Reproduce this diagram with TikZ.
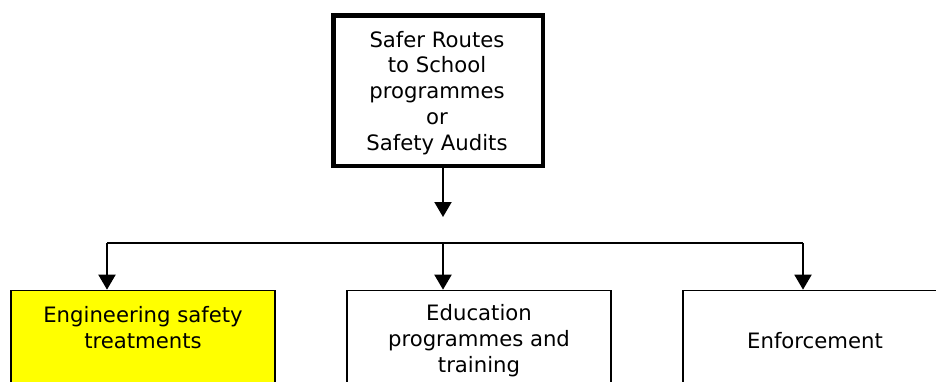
\documentclass[tikz,border=0pt]{standalone}
\usepackage{fontspec}
\setmainfont{DejaVu Sans}
\usetikzlibrary{arrows.meta}
\definecolor{boxyellow}{RGB}{255,255,0}
\begin{document}
\begin{tikzpicture}[x=1pt,y=-1pt,
  txt/.style={align=center,inner sep=0pt,anchor=base,font=\fontsize{21.2}{25.75}\selectfont},
  topbox/.style={draw=black,line width=4.5pt,inner sep=0pt},
  lowbox/.style={draw=black,line width=1.3pt,inner sep=0pt},
  arr/.style={line width=2pt,-{Triangle[width=17pt,length=15pt]}},
  link/.style={line width=2pt}]
\useasboundingbox (0,0) rectangle (936,381);
\clip (0,0) rectangle (936,381);
\fill[white] (0,0) rectangle (936,381);
% boxes
\node[topbox,minimum width=209.5pt,minimum height=150.5pt] (top) at (438,90.5) {};
\node[lowbox,fill=boxyellow,minimum width=264pt,minimum height=140pt] (eng) at (143,360.3) {};
\node[lowbox,minimum width=264pt,minimum height=140pt] (edu) at (479,360.3) {};
\node[lowbox,minimum width=264pt,minimum height=140pt] (enf) at (815,360.3) {};
% texts
\node[txt] (ttop) at (437,150) {Safer Routes\\to School\\programmes\\or\\Safety Audits};
\node[txt] (teng) at (143,348) {Engineering safety\\treatments};
\node[txt] (tedu) at (479,372) {Education\\programmes and\\training};
\node[txt] (tenf) at (815,348) {Enforcement};
% connectors
\coordinate (t2) at (443,217);
\coordinate (j1) at (107,243);
\coordinate (j2) at (443,243);
\coordinate (j3) at (803,243);
\draw[arr] (top.south -| t2) -- (t2);
\draw[link] (j1) -- (j3);
\draw[arr] (j1) -- (j1 |- eng.north);
\draw[arr] (j2) -- (j2 |- edu.north);
\draw[arr] (j3) -- (j3 |- enf.north);
\end{tikzpicture}
\end{document}
